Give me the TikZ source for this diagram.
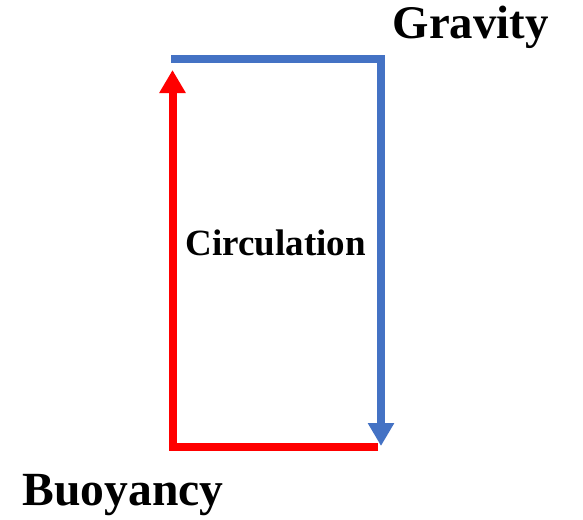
\documentclass[tikz,border=0pt]{standalone}
\usepackage{fontspec}
\setmainfont{Liberation Serif}
\usepackage{xcolor}
\usetikzlibrary{arrows.meta,positioning}
\definecolor{gravblue}{HTML}{4472C4}
\definecolor{buoyred}{HTML}{FF0000}

\begin{document}
\begin{tikzpicture}[
    x=1pt,y=-1pt,
    flow/.style={line width=8pt,line join=miter,-{Triangle[width=25pt,length=23pt]}},
    label/.style={inner sep=0pt,anchor=base west,font=\bfseries},
]
\useasboundingbox (0,0) rectangle (583,519);
% corners of the loop
\coordinate (tl) at (171,59);
\coordinate (tr) at (381,59);
\coordinate (br) at (381,446);
\coordinate (rb) at (378,447);
\coordinate (lb) at (172.5,447);
\coordinate (lt) at (172.5,70);
\node[label,font=\fontsize{46.8}{46.8}\selectfont\bfseries] (grav) at (392.5,39) {Gravity};
\node[label,font=\fontsize{47.6}{47.6}\selectfont\bfseries] (buoy) at (22.5,505) {Buoyancy};
\node[label,font=\fontsize{37}{37}\selectfont\bfseries] (circ) at (185.5,255) {Circulation};
\draw[flow,gravblue] (tl) -- (tr) -- (br);
\draw[flow,buoyred] (rb) -- (lb) -- (lt);
\end{tikzpicture}
\end{document}
